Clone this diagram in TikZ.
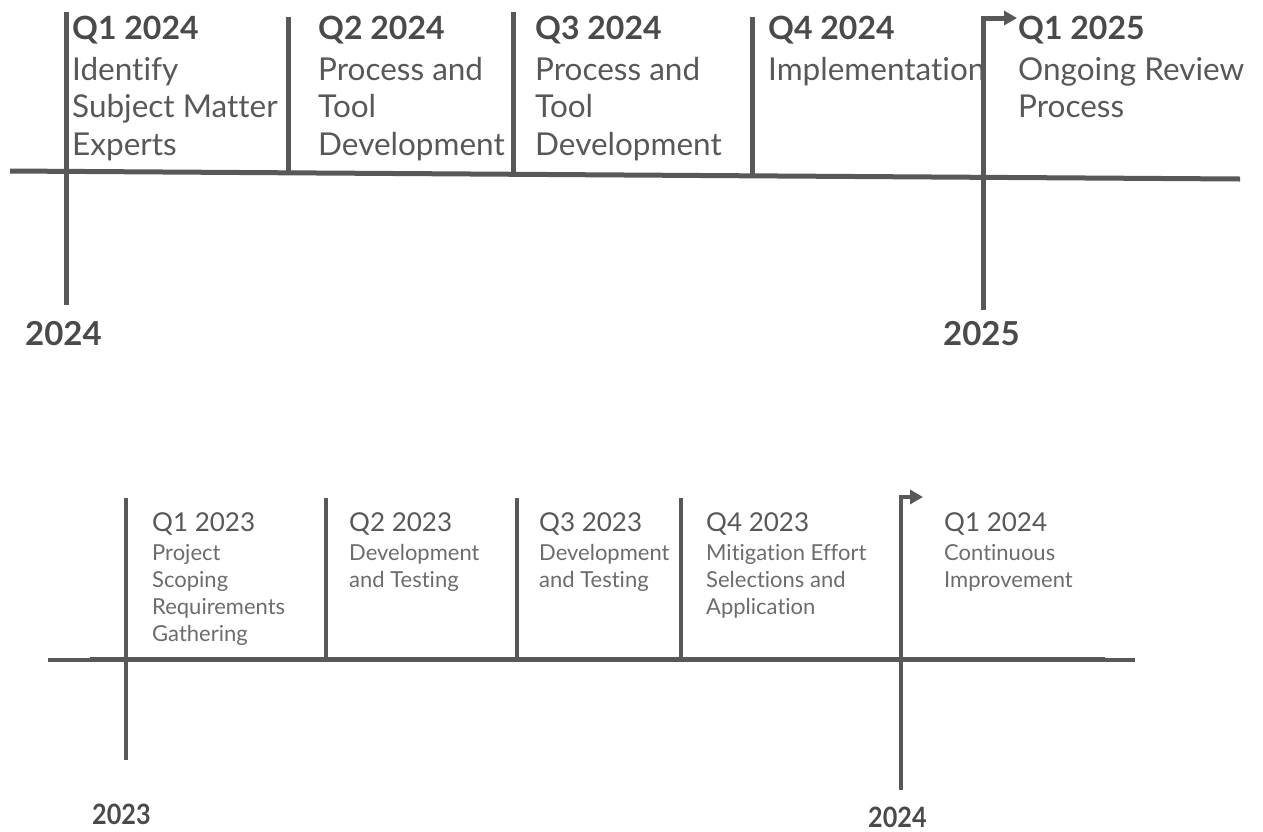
\documentclass[tikz,border=0pt]{standalone}
\usepackage{fontspec}
\setmainfont{Lato}[Ligatures=NoCommon]
\usetikzlibrary{arrows.meta}
\definecolor{lineGray}{HTML}{58585B}
\definecolor{headGray}{HTML}{4A4A4C}
\definecolor{descGray}{HTML}{58585A}
\definecolor{softGray}{HTML}{6C6C6E}

\begin{document}
\begin{tikzpicture}[x=1pt,y=-1pt,
  rule/.style={draw=lineGray,line width=5pt},
  lowrule/.style={draw=lineGray,line width=4pt},
  flag/.style={-{Triangle[length=13pt,width=14pt]}},
  topHead/.style={anchor=north west,inner sep=0pt,text=headGray,font=\fontsize{32}{38}\selectfont\bfseries},
  topDesc/.style={anchor=north west,inner sep=0pt,align=left,text=descGray,font=\fontsize{31.5}{37.5}\selectfont},
  lowHead/.style={anchor=north west,inner sep=0pt,text=descGray,font=\fontsize{26}{30}\selectfont},
  lowDesc/.style={anchor=north west,inner sep=0pt,align=left,text=softGray,font=\fontsize{22}{27}\selectfont},
  yearTop/.style={anchor=base west,inner sep=0pt,text=headGray,font=\fontsize{33}{38}\selectfont\bfseries},
  yearLow/.style={anchor=base west,inner sep=0pt,text=headGray,xscale=0.9,font=\fontsize{28}{32}\selectfont\bfseries}]
\useasboundingbox (0,0) rectangle (1263,831);

% upper timeline: 2024
\node[topHead] (h1) at (72,16) {Q1 2024};
\node[topDesc] (d1) at (72,57) {Identify\\Subject Matter\\Experts};
\node[topHead] (h2) at (318,16) {Q2 2024};
\node[topDesc] (d2) at (318,57) {Process and\\Tool\\Development};
\node[topHead] (h3) at (535,16) {Q3 2024};
\node[topDesc] (d3) at (535,57) {Process and\\Tool\\Development};
\node[topHead] (h4) at (768,16) {Q4 2024};
\node[topDesc] (d4) at (768,57) {Implementation};
\node[topHead] (h5) at (1018,16) {Q1 2025};
\node[topDesc] (d5) at (1018,57) {Ongoing Review\\Process};
\node[yearTop] (y1) at (25,345) {2024};
\node[yearTop] (y2) at (943,345) {2025};

\draw[rule] (10,171) -- (1240,179);
\draw[rule] (66,12) -- (66,305);
\foreach \x/\t/\b in {288/17/172.8, 513/12/174.3, 752/17/175.8}{ \draw[rule] (\x,\t) -- (\x,\b); }
\draw[rule,flag] (983,310) -- (983,18) -- (1017,18);

% lower timeline: 2023
\node[lowHead] (g1) at (152,512) {Q1 2023};
\node[lowDesc] (e1) at (152,544) {Project\\Scoping\\Requirements\\Gathering};
\node[lowHead] (g2) at (349,512) {Q2 2023};
\node[lowDesc] (e2) at (349,544) {Development\\and Testing};
\node[lowHead] (g3) at (539,512) {Q3 2023};
\node[lowDesc] (e3) at (539,544) {Development\\and Testing};
\node[lowHead] (g4) at (706,512) {Q4 2023};
\node[lowDesc] (e4) at (706,544) {Mitigation Effort\\Selections and\\Application};
\node[lowHead] (g5) at (944,512) {Q1 2024};
\node[lowDesc] (e5) at (944,544) {Continuous\\Improvement};
\node[yearLow] (z1) at (92,824) {2023};
\node[yearLow] (z2) at (868,827) {2024};

\draw[lowrule] (48,660) -- (1135,660);
\draw[rule] (90,659) -- (1105,659);
\draw[lowrule] (126,498) -- (126,760);
\foreach \x in {326,517,681}{ \draw[lowrule] (\x,498) -- (\x,658); }
\draw[lowrule,flag] (901,790) -- (901,497) -- (923,497);
\end{tikzpicture}
\end{document}
